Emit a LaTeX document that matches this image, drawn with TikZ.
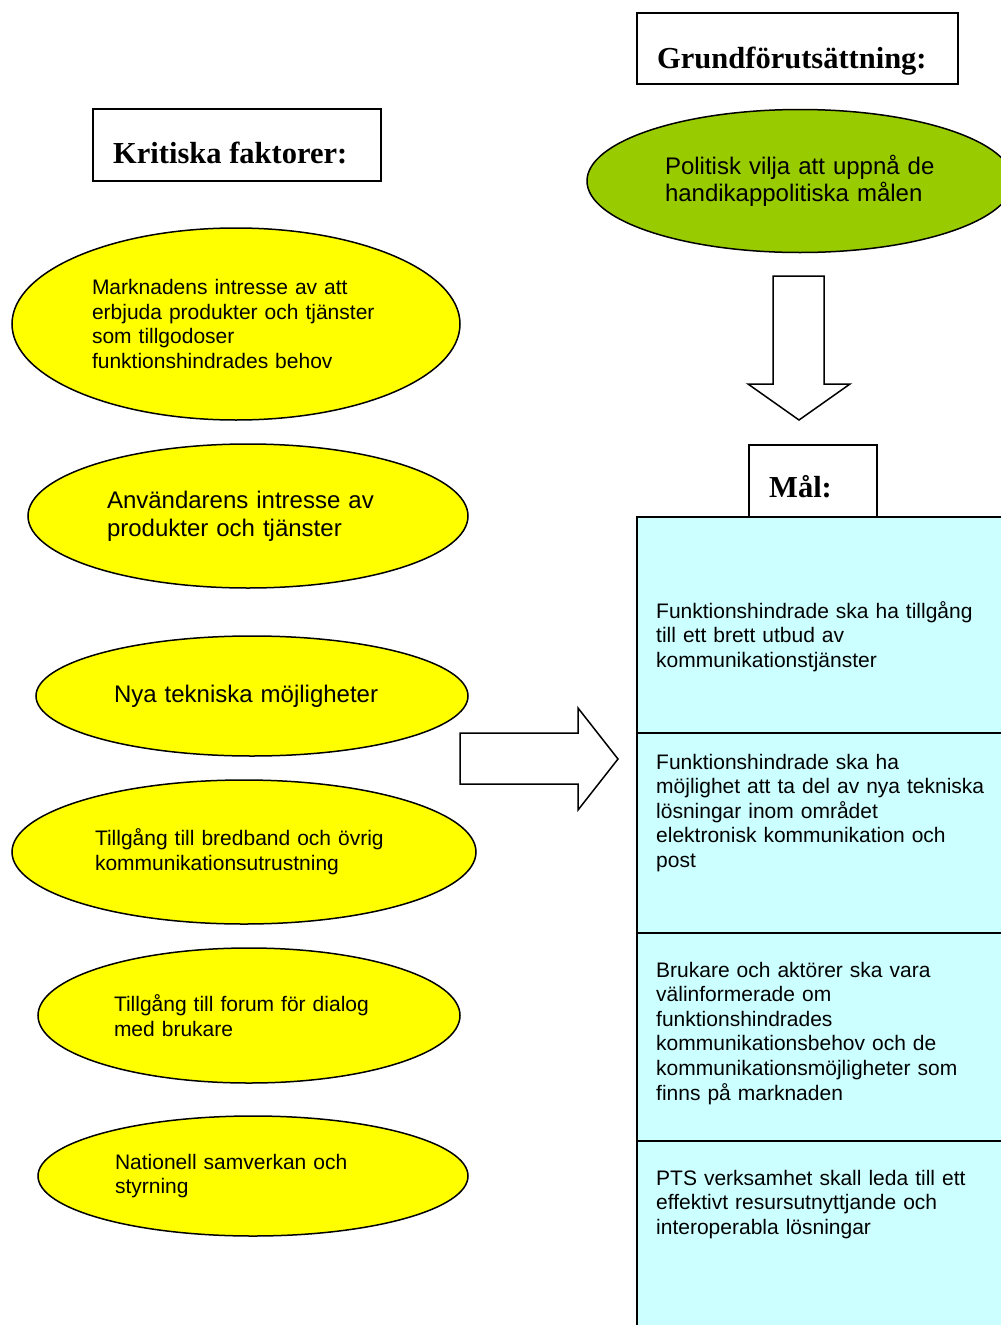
\documentclass[tikz,border=0pt]{standalone}
\usepackage{fontspec}
\setmainfont{Liberation Serif}
\setsansfont{Liberation Sans}
\usetikzlibrary{calc, shapes}
\definecolor{factoryellow}{HTML}{FFFF00}
\definecolor{goalgreen}{HTML}{99CC00}
\definecolor{goalcyan}{HTML}{CCFFFF}

\begin{document}
\begin{tikzpicture}[x=1pt,y=-1pt]
\tikzstyle{factor}=[ellipse,draw,line width=1.5pt,fill=factoryellow,inner sep=0pt,align=left,font=\sffamily\fontsize{21}{24.6}\selectfont]
\tikzstyle{bigfont}=[font=\sffamily\fontsize{24}{27.6}\selectfont]
\tikzstyle{heading}=[rectangle,draw,line width=1.5pt,fill=white,inner sep=0pt,anchor=north west]
\tikzstyle{headtext}=[inner sep=0pt,anchor=base west,font=\bfseries\fontsize{30.5}{34}\selectfont]
\tikzstyle{goal}=[rectangle,draw,line width=1.5pt,fill=goalcyan,inner sep=0pt,anchor=north west,minimum width=500pt]
\tikzstyle{goaltext}=[inner sep=0pt,anchor=base west,text width=340pt,align=left,font=\sffamily\fontsize{21}{24.6}\selectfont]
\tikzstyle{block}=[draw,line width=1.5pt,fill=white,line join=miter]
\clip (0,0) rectangle (1001,1325);
\fill[white] (0,0) rectangle (1001,1325);
% headings
\node[heading,minimum width=321pt,minimum height=71pt] (H_0) at (636,12) {};
\node[headtext] (T_0) at ($(H_0.north west)+(21,56)$) {Grundförutsättning:};
\node[heading,minimum width=288pt,minimum height=72pt] (H_1) at (92,108) {};
\node[headtext] (T_1) at ($(H_1.north west)+(21,55)$) {Kritiska faktorer:};
\node[heading,minimum width=128pt,minimum height=72pt] (H_2) at (748,444) {};
\node[headtext] (T_2) at ($(H_2.north west)+(21,53)$) {Mål:};
% ellipses
\node[factor,bigfont,fill=goalgreen,minimum width=426pt,minimum height=143pt,text width=270pt] (P_0) at (800,181) {Politisk vilja att uppnå de\\handikappolitiska målen};
\node[factor,minimum width=448pt,minimum height=192pt,text width=288pt] (F_1) at (236,324) {Marknadens intresse av att\\erbjuda produkter och tjänster\\som tillgodoser\\funktionshindrades behov};
\node[factor,bigfont,minimum width=440pt,minimum height=144pt,text width=282pt] (F_2) at (248,516) {Användarens intresse av\\produkter och tjänster};
\node[factor,bigfont,minimum width=432pt,minimum height=120pt,text width=276pt] (F_3) at (252,696) {Nya tekniska möjligheter};
\node[factor,minimum width=464pt,minimum height=144pt,text width=298pt] (F_4) at (244,852) {Tillgång till bredband och övrig\\kommunikationsutrustning};
\node[factor,minimum width=422pt,minimum height=135pt,text width=270pt] (F_5) at (249,1015.5) {Tillgång till forum för dialog\\med brukare};
\node[factor,minimum width=430pt,minimum height=120pt,text width=276pt] (F_6) at (253,1176) {Nationell samverkan och\\styrning};
% goals table
\node[goal,minimum height=216pt] (G_1) at (636,516) {};
\node[goal,minimum height=200pt] (G_2) at (636,732) {};
\node[goal,minimum height=208pt] (G_3) at (636,932) {};
\node[goal,minimum height=300pt] (G_4) at (636,1140) {};
\node[goaltext] (M_1) at ($(G_1.north west)+(20,102)$) {Funktionshindrade ska ha tillgång\\till ett brett utbud av\\kommunikationstjänster};
\node[goaltext] (M_2) at ($(G_2.north west)+(20,37)$) {Funktionshindrade ska ha\\möjlighet att ta del av nya tekniska\\lösningar inom området\\elektronisk kommunikation och\\post};
\node[goaltext] (M_3) at ($(G_3.north west)+(20,45)$) {Brukare och aktörer ska vara\\välinformerade om\\funktionshindrades\\kommunikationsbehov och de\\kommunikationsmöjligheter som\\finns på marknaden};
\node[goaltext] (M_4) at ($(G_4.north west)+(20,45)$) {PTS verksamhet skall leda till ett\\effektivt resursutnyttjande och\\interoperabla lösningar};
% block arrows
\draw[block] (773,276) -- (824,276) -- (824,384) -- (850,384) -- (799,420) -- (748,384) -- (773,384) -- cycle;
\draw[block] (460,733) -- (578,733) -- (578,708) -- (618,759) -- (578,810) -- (578,784) -- (460,784) -- cycle;
\end{tikzpicture}
\end{document}
